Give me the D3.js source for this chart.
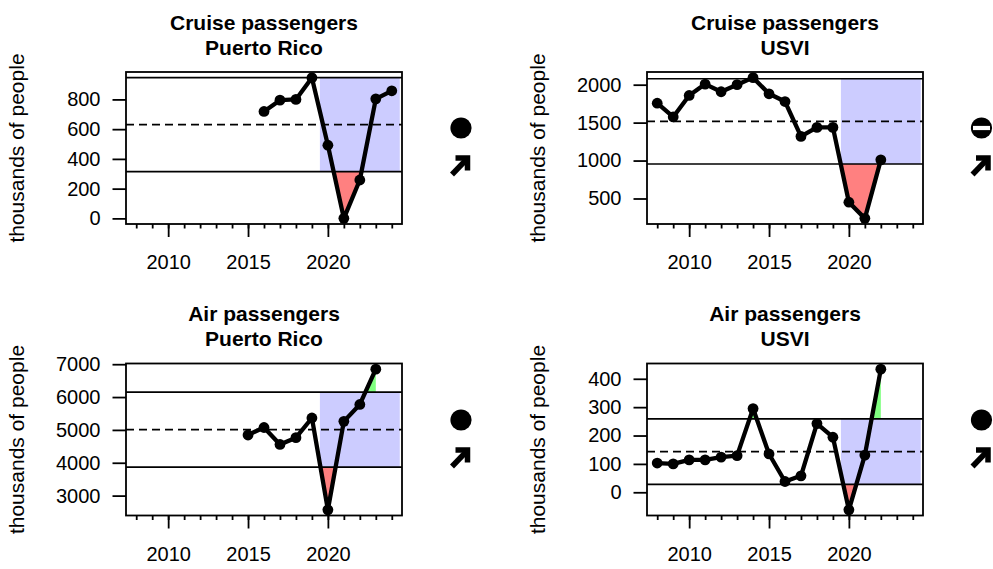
<!DOCTYPE html>
<html>
<head>
<meta charset="utf-8">
<script src="https://cdn.jsdelivr.net/npm/d3@7"></script>
<style>
  html, body { margin: 0; padding: 0; background: #fff; }
  svg { display: block; font-family: "Liberation Sans", Arial, sans-serif; }
</style>
</head>
<body>
<svg id="chart" width="993" height="569"></svg>
<script>
// ---------------- data ----------------
const axisYears = [2008, 2024];
const majorTickYears = [2010, 2015, 2020];
const minorTickYears = [2008, 2009, 2010, 2011, 2012, 2013, 2014, 2015, 2016, 2017, 2018, 2019, 2020, 2021, 2022, 2023, 2024];
const recentWindow = [2020, 2024];

const cruisePRYears = [2016, 2017, 2018, 2019, 2020, 2021, 2022, 2023, 2024];
const cruisePRValues = [719, 795, 800, 946, 492, 0, 258, 804, 858];
const cruisePRTicks = [0, 200, 400, 600, 800];

const cruiseUSVIYears = [2008, 2009, 2010, 2011, 2012, 2013, 2014, 2015, 2016, 2017, 2018, 2019, 2020, 2021, 2022];
const cruiseUSVIValues = [1756, 1575, 1858, 2008, 1907, 2000, 2093, 1880, 1778, 1318, 1437, 1437, 451, 238, 1009];
const cruiseUSVITicks = [500, 1000, 1500, 2000];

const airPRYears = [2015, 2016, 2017, 2018, 2019, 2020, 2021, 2022, 2023];
const airPRValues = [4845, 5074, 4557, 4764, 5363, 2566, 5260, 5775, 6850];
const airPRTicks = [3000, 4000, 5000, 6000, 7000];

const airUSVIYears = [2008, 2009, 2010, 2011, 2012, 2013, 2014, 2015, 2016, 2017, 2018, 2019, 2020, 2021, 2022];
const airUSVIValues = [103, 100, 114, 114, 124, 129, 295, 135, 38, 58, 242, 194, -62, 131, 434];
const airUSVITicks = [0, 100, 200, 300, 400];

const titlesLine1 = ["Cruise passengers", "Cruise passengers", "Air passengers", "Air passengers"];
const titlesLine2 = ["Puerto Rico", "USVI", "Puerto Rico", "USVI"];
const yLabel = "thousands of people";
const statusMean = ["circle", "minus", "circle", "circle"];   // mean of recent years vs. +/- 1 sd
const statusTrend = ["up", "up", "up", "up"];

// ---------------- layout ----------------
const panels = [
  { years: cruisePRYears, values: cruisePRValues, ticks: cruisePRTicks, col: 0, row: 0 },
  { years: cruiseUSVIYears, values: cruiseUSVIValues, ticks: cruiseUSVITicks, col: 1, row: 0 },
  { years: airPRYears, values: airPRValues, ticks: airPRTicks, col: 0, row: 1 },
  { years: airUSVIYears, values: airUSVIValues, ticks: airUSVITicks, col: 1, row: 1 }
];
const colX = [[126, 402], [647, 923]];
const rowY = [[72, 224], [363.5, 515.5]];
const symX = [461, 981.5];
const symY = [128, 420];

const svg = d3.select("#chart");

panels.forEach((p, i) => {
  const [x0, x1] = colX[p.col];
  const [y0, y1] = rowY[p.row];
  const g = svg.append("g");

  const mean = d3.mean(p.values);
  const sd = d3.deviation(p.values);
  const hi = mean + sd, lo = mean - sd;

  const span = axisYears[1] - axisYears[0];
  const x = d3.scaleLinear()
    .domain([axisYears[0] - 0.04 * span, axisYears[1] + 0.04 * span])
    .range([x0, x1]);
  const ext = d3.extent(p.values.concat([hi, lo]));
  const r = ext[1] - ext[0];
  const y = d3.scaleLinear()
    .domain([ext[0] - 0.04 * r, ext[1] + 0.04 * r])
    .range([y1, y0]);

  const clipId = "clip" + i;
  svg.append("clipPath").attr("id", clipId)
    .append("rect").attr("x", x0).attr("y", y0).attr("width", x1 - x0).attr("height", y1 - y0);
  const pg = g.append("g").attr("clip-path", `url(#${clipId})`);

  // recent window shading between +/- 1 sd
  pg.append("rect")
    .attr("x", x(recentWindow[0] - 0.5))
    .attr("width", x(recentWindow[1] + 0.5) - x(recentWindow[0] - 0.5))
    .attr("y", y(hi))
    .attr("height", y(lo) - y(hi))
    .attr("fill", "#ccccff");

  // build points with crossings inserted
  const pts = p.years.map((yr, k) => ({ t: yr, v: p.values[k] }));
  function withCrossings(th) {
    const out = [];
    for (let k = 0; k < pts.length; k++) {
      if (k > 0) {
        const a = pts[k - 1], b = pts[k];
        if ((a.v - th) * (b.v - th) < 0) {
          const f = (th - a.v) / (b.v - a.v);
          out.push({ t: a.t + f * (b.t - a.t), v: th });
        }
      }
      out.push(pts[k]);
    }
    return out;
  }
  const greenArea = d3.area().x(d => x(d.t)).y0(y(hi)).y1(d => y(Math.max(d.v, hi)));
  const redArea = d3.area().x(d => x(d.t)).y0(y(lo)).y1(d => y(Math.min(d.v, lo)));
  pg.append("path").attr("d", greenArea(withCrossings(hi))).attr("fill", "#80ff80");
  pg.append("path").attr("d", redArea(withCrossings(lo))).attr("fill", "#ff8080");

  // reference lines
  [hi, lo].forEach(v => {
    pg.append("line").attr("x1", x0).attr("x2", x1).attr("y1", y(v)).attr("y2", y(v))
      .attr("stroke", "#000").attr("stroke-width", 1.7);
  });
  pg.append("line").attr("x1", x0).attr("x2", x1).attr("y1", y(mean)).attr("y2", y(mean))
    .attr("stroke", "#000").attr("stroke-width", 1.7).attr("stroke-dasharray", "8,5");

  // data line and points
  const line = d3.line().x(d => x(d.t)).y(d => y(d.v));
  pg.append("path").attr("d", line(pts)).attr("fill", "none")
    .attr("stroke", "#000").attr("stroke-width", 4.3).attr("stroke-linejoin", "round");
  pg.selectAll("circle.pt").data(pts).enter().append("circle")
    .attr("cx", d => x(d.t)).attr("cy", d => y(d.v)).attr("r", 5.4).attr("fill", "#000");

  // box
  g.append("rect").attr("x", x0).attr("y", y0).attr("width", x1 - x0).attr("height", y1 - y0)
    .attr("fill", "none").attr("stroke", "#000").attr("stroke-width", 1.8);

  // x axis
  const xMinor = g.append("g").attr("transform", `translate(0,${y1})`)
    .call(d3.axisBottom(x).tickValues(minorTickYears).tickSize(4.5).tickFormat(""));
  xMinor.select(".domain").remove();
  xMinor.selectAll("line").attr("stroke-width", 1.8);
  const xMajor = g.append("g").attr("transform", `translate(0,${y1})`)
    .call(d3.axisBottom(x).tickValues(majorTickYears).tickSize(13).tickPadding(18).tickFormat(d3.format("d")));
  xMajor.select(".domain").remove();
  xMajor.selectAll("line").attr("stroke-width", 1.8);
  xMajor.selectAll("text").attr("font-size", 20).attr("fill", "#000")
    .attr("font-family", '"Liberation Sans", Arial, sans-serif');

  // y axis
  const yAx = g.append("g").attr("transform", `translate(${x0},0)`)
    .call(d3.axisLeft(y).tickValues(p.ticks).tickSize(13.5).tickPadding(12).tickFormat(d3.format("d")));
  yAx.select(".domain").remove();
  yAx.selectAll("line").attr("stroke-width", 1.8);
  yAx.selectAll("text").attr("font-size", 20).attr("fill", "#000")
    .attr("font-family", '"Liberation Sans", Arial, sans-serif');

  // y label
  const lx = x0 - 102, ly = (y0 + y1) / 2;
  g.append("text").attr("transform", `translate(${lx},${ly}) rotate(-90)`)
    .attr("text-anchor", "middle").attr("font-size", 21).attr("fill", "#000")
    .text(yLabel);

  // title
  const cx = (x0 + x1) / 2;
  g.append("text").attr("x", cx).attr("y", y0 - 42.5).attr("text-anchor", "middle")
    .attr("font-size", 21).attr("font-weight", "bold").text(titlesLine1[i]);
  g.append("text").attr("x", cx).attr("y", y0 - 17.5).attr("text-anchor", "middle")
    .attr("font-size", 21).attr("font-weight", "bold").text(titlesLine2[i]);

  // status symbols
  const sx = symX[p.col], sy = symY[p.row];
  g.append("circle").attr("cx", sx).attr("cy", sy).attr("r", 10.6).attr("fill", "#000");
  if (statusMean[i] === "minus") {
    g.append("rect").attr("x", sx - 8.5).attr("y", sy - 2.1).attr("width", 17).attr("height", 4.2).attr("fill", "#fff");
  }
  if (statusTrend[i] === "up") {
    const ax = sx - 1, ay = sy + 38;
    const ag = g.append("g").attr("transform", `translate(${ax},${ay})`)
      .attr("fill", "none").attr("stroke", "#000").attr("stroke-width", 5.5);
    ag.append("path").attr("d", "M-4.5,-8 L7.5,-8 L7.5,4.5").attr("stroke-linejoin", "miter");
    ag.append("path").attr("d", "M-8,8.5 L5.5,-5.5");
  }
});
</script>
</body>
</html>
